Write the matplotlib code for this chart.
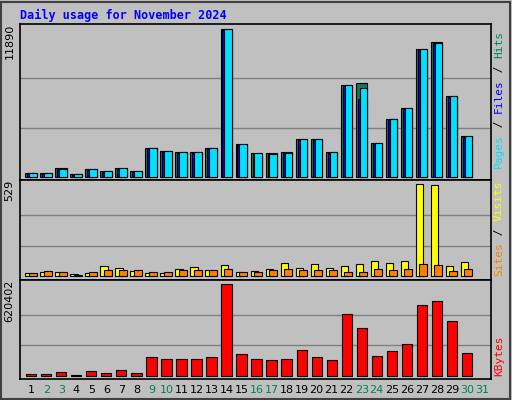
import matplotlib.pyplot as plt
from matplotlib.patches import Rectangle

days = list(range(1, 32))
weekend = [2, 3, 9, 10, 16, 17, 23, 24, 30, 31]

# values (day 31 has no data)
hits = [297, 269, 699, 215, 592, 430, 699, 430, 2313, 2044, 1964, 1964, 2313, 11890,
        2609, 1883, 1883, 1964, 3040, 3040, 1964, 7371, 7559, 2690, 4654, 5515,
        10276, 10841, 6483, 3255]
files = [270, 240, 640, 180, 560, 400, 660, 400, 2290, 2020, 1940, 1940, 2290, 11860,
         2580, 1860, 1820, 1920, 3000, 3000, 1940, 7330, 6240, 2660, 4620, 5480,
         10240, 10760, 6450, 3230]
pages = [297, 269, 592, 180, 592, 430, 699, 430, 2313, 2044, 1964, 1964, 2313, 11890,
         2609, 1883, 1802, 1883, 3040, 3040, 1964, 7371, 7129, 2690, 4654, 5515,
         10276, 10761, 6483, 3255]
visits = [17, 23, 23, 11, 17, 57, 46, 29, 17, 17, 40, 52, 34, 63, 23, 29, 40, 74,
          46, 69, 46, 57, 69, 86, 74, 86, 529, 521, 57, 80]
sites = [17, 29, 23, 6, 23, 34, 34, 34, 23, 23, 34, 34, 34, 40, 23, 23, 34, 40,
         34, 34, 34, 23, 23, 40, 34, 40, 69, 63, 29, 40]
kbytes = [13585, 13585, 27170, 6792, 33963, 20377, 40755, 20377, 129059, 115473,
          115473, 115473, 129059, 620402, 149436, 115473, 108680, 115473, 176606,
          129059, 108680, 414341, 319248, 135851, 169814, 217361, 475470, 502640,
          366794, 156229]

BG = '#C0C0C0'
W, H = 512, 400
SLOTS = 471 / 15.02
fig = plt.figure(figsize=(W / 100, H / 100), dpi=100, facecolor=BG)
fig.patches.append(Rectangle((0.002, 0.002), 0.994, 0.994, transform=fig.transFigure,
                             fill=False, edgecolor='#404040', lw=1.5))
mono = 'DejaVu Sans Mono'

fig.text(20 / W, 1 - 15 / H, 'Daily usage for November 2024', color='#0000FF',
         fontsize=8.5, fontweight='bold', family=mono, va='center')


def panel(top, bottom):
    ax = fig.add_axes([20 / W, 1 - bottom / H, (491 - 20) / W, (bottom - top) / H])
    ax.set_facecolor(BG)
    ax.set_xlim(0, SLOTS)
    ax.set_xticks([])
    ax.set_yticks([])
    for s in ax.spines.values():
        s.set_linewidth(1.2)
    return ax


def grid(ax, mx, span, below, above):
    # span = pixel height of max bar, below/above = pixel gaps to the frame
    ax.set_ylim(-mx * below / span, mx * (1 + above / span))
    for g in (mx / 3, 2 * mx / 3):
        ax.axhline(g, color='#808080', lw=1, zorder=0)
    ax.text(-0.012, 1, str(mx), transform=ax.transAxes, rotation=90, ha='right',
            va='top', fontsize=8, family='DejaVu Sans')


def legend(parts, bottom):
    y = bottom
    for txt, col in parts:
        fig.text(499 / W, 1 - y / H, txt, color=col, rotation=90, ha='center',
                 va='bottom', fontsize=8, family=mono)
        y -= len(txt) * 6.6 + 1


x0 = [d - 1 for d in days[:30]]

ax1 = panel(24, 180)
grid(ax1, 11890, 147.4, 3.3, 5.3)
ax1.bar([x + 0.35 for x in x0], hits, 0.75, align='edge', color='#00805C', edgecolor='black', lw=0.8, zorder=2)
ax1.bar([x + 0.48 for x in x0], files, 0.62, align='edge', color='#0000FF', edgecolor='black', lw=0.8, zorder=3)
ax1.bar([x + 0.61 for x in x0], pages, 0.49, align='edge', color='#00E0FF', edgecolor='black', lw=0.8, zorder=4)
legend([('Pages', '#00E0FF'), (' / ', 'black'), ('Files', '#0000FF'), (' / ', 'black'), ('Hits', '#00805C')], 168)

ax2 = panel(180, 280)
grid(ax2, 529, 92.3, 3.7, 4)
ax2.bar([x + 0.35 for x in x0], visits, 0.49, align='edge', color='#FFFF00', edgecolor='black', lw=0.8, zorder=2)
ax2.bar([x + 0.57 for x in x0], sites, 0.53, align='edge', color='#FF8000', edgecolor='black', lw=0.8, zorder=3)
legend([('Sites', '#FF8000'), (' / ', 'black'), ('Visits', '#FFFF00')], 276)

ax3 = panel(280, 379)
grid(ax3, 620402, 91.3, 3.4, 4)
ax3.bar([x + 0.41 for x in x0], kbytes, 0.68, align='edge', color='#FF0000', edgecolor='black', lw=0.8, zorder=2)
legend([('KBytes', '#FF0000')], 376)

for d in days:
    col = '#00805C' if d in weekend else 'black'
    ax3.text(d - 0.25, -0.11, str(d), transform=ax3.get_xaxis_transform(), ha='center',
             va='center', color=col, fontsize=8, family='DejaVu Sans')

fig.savefig('out.png', dpi=100, facecolor=BG)
